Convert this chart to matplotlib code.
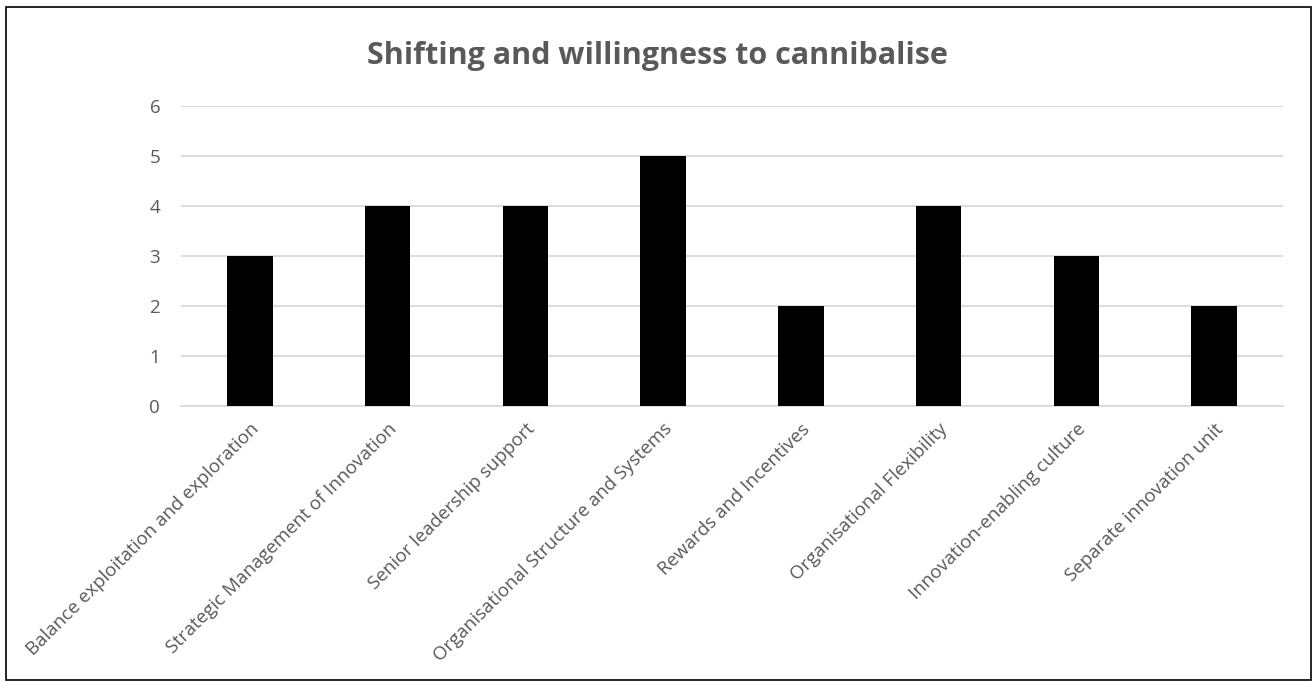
import matplotlib
matplotlib.use("Agg")
import matplotlib.pyplot as plt
from matplotlib.patches import Rectangle

categories = [
    "Balance exploitation and exploration",
    "Strategic Management of Innovation",
    "Senior leadership support",
    "Organisational Structure and Systems",
    "Rewards and Incentives",
    "Organisational Flexibility",
    "Innovation-enabling culture",
    "Separate innovation unit",
]
values = [3, 4, 4, 5, 2, 4, 3, 2]
y_ticks = [0, 1, 2, 3, 4, 5, 6]
title = "Shifting and willingness to cannibalise"

plt.rcParams["font.family"] = ["Open Sans", "DejaVu Sans"]
text_color = "#595959"
grid_color = "#d9d9d9"

W, H, DPI = 1313, 682, 100
fig = plt.figure(figsize=(W / DPI, H / DPI), dpi=DPI)
ax = fig.add_axes([181 / W, 1 - 406 / H, (1283 - 181) / W, 300 / H])

x = list(range(len(categories)))
ax.bar(x, values, width=0.33, color="black", zorder=3)

ax.set_xlim(-0.5, len(categories) - 0.5)
ax.set_ylim(0, 6)
ax.set_yticks(y_ticks)
ax.set_yticklabels([str(t) for t in y_ticks], color=text_color, fontsize=13.5)
ax.yaxis.grid(True, color=grid_color, linewidth=1.3, zorder=0)
ax.set_xticks(x)
ax.set_xticklabels(categories, rotation=45, ha="right", rotation_mode="anchor",
                   color=text_color, fontsize=13.5)
ax.tick_params(axis="y", length=0, pad=15)
ax.tick_params(axis="x", length=0, pad=10)
for side in ["top", "right", "left"]:
    ax.spines[side].set_visible(False)
ax.spines["bottom"].set_color(grid_color)
ax.spines["bottom"].set_linewidth(1.3)

fig.text(0.5 * (363 + 951) / W, 1 - 64 / H, title, ha="center", va="baseline",
         fontsize=22, fontweight="bold", color=text_color)

fig.patches.append(Rectangle((6 / W, 1 - 680 / H), (1311 - 6) / W, (680 - 7) / H,
                             transform=fig.transFigure, fill=False,
                             edgecolor="black", linewidth=1.2))

fig.savefig("out.png", dpi=DPI)
